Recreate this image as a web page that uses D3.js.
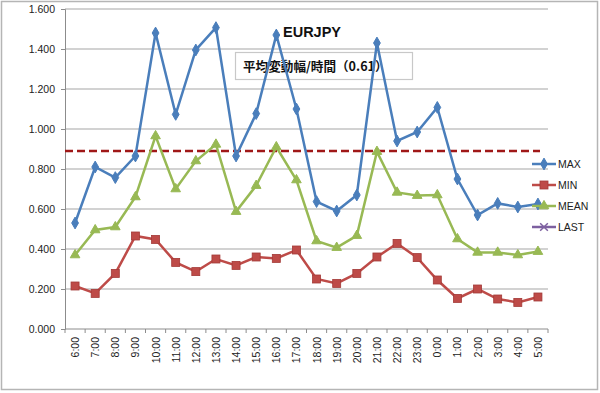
<!DOCTYPE html>
<html>
<head>
<meta charset="utf-8">
<script src="https://cdn.jsdelivr.net/npm/d3@7"></script>
<style>
   body { margin: 0; background: #fff; }
   svg { font-family: "Liberation Sans", Arial, sans-serif; }
</style>
</head>
<body>
<script>
// chart data
var hours = ["6:00", "7:00", "8:00", "9:00", "10:00", "11:00", "12:00", "13:00", "14:00", "15:00",
   "16:00", "17:00", "18:00", "19:00", "20:00", "21:00", "22:00", "23:00", "0:00", "1:00",
   "2:00", "3:00", "4:00", "5:00"];
var maxVals = [0.53, 0.81, 0.757, 0.865, 1.48, 1.073, 1.395, 1.507, 0.865, 1.077,
   1.47, 1.10, 0.637, 0.59, 0.67, 1.43, 0.94, 0.985, 1.108, 0.75,
   0.57, 0.628, 0.61, 0.625];
var minVals = [0.215, 0.178, 0.278, 0.465, 0.448, 0.333, 0.287, 0.35, 0.318, 0.36,
   0.353, 0.395, 0.25, 0.228, 0.278, 0.36, 0.428, 0.357, 0.245, 0.153,
   0.2, 0.15, 0.133, 0.16];
var meanVals = [0.37, 0.495, 0.51, 0.66, 0.965, 0.70, 0.84, 0.923, 0.587, 0.717,
   0.91, 0.745, 0.44, 0.407, 0.467, 0.887, 0.683, 0.667, 0.67, 0.45,
   0.383, 0.383, 0.37, 0.387];
var lastVals = [];
var yTicks = [0, 0.2, 0.4, 0.6, 0.8, 1.0, 1.2, 1.4, 1.6];
var avgLine = 0.89;
var chartTitle = "EURJPY";
var boxLabel = "平均変動幅/時間（0.61）";

var series = [
   { name: "MAX", values: maxVals, color: "#4a7ebb", marker: "diamond" },
   { name: "MIN", values: minVals, color: "#be4b48", marker: "square" },
   { name: "MEAN", values: meanVals, color: "#98b954", marker: "triangle" },
   { name: "LAST", values: lastVals, color: "#7d60a0", marker: "cross" }
];

var width = 600, height = 393;
var plot = { left: 65, right: 548, top: 9, bottom: 329 };

var svg = d3.select("body").append("svg")
   .attr("width", width)
   .attr("height", height);

// outer frame
svg.append("rect")
   .attr("x", 1.5).attr("y", 1.5)
   .attr("width", 596).attr("height", 388)
   .style("fill", "#fff")
   .style("stroke", "#b5b5b5")
   .style("stroke-width", 1.5);

var x = d3.scaleBand()
   .domain(hours)
   .range([plot.left, plot.right]);
var y = d3.scaleLinear()
   .domain([0, 1.6])
   .range([plot.bottom, plot.top]);

// gridlines
svg.append("g")
   .selectAll("line")
   .data(yTicks.slice(1))
   .enter().append("line")
   .attr("x1", plot.left).attr("x2", plot.right)
   .attr("y1", function (d) { return y(d); })
   .attr("y2", function (d) { return y(d); })
   .style("stroke", "#a6a6a6")
   .style("stroke-width", 1.2);

// y axis
var yAxis = svg.append("g")
   .attr("transform", "translate(" + plot.left + ",0)")
   .call(d3.axisLeft(y).tickValues(yTicks).tickFormat(d3.format(".3f")).tickSize(4).tickPadding(6));
yAxis.select(".domain").style("stroke", "#8c8c8c");
yAxis.selectAll(".tick line").style("stroke", "#8c8c8c");
yAxis.selectAll("text").style("font-size", "10.5px").style("fill", "#222");

// x axis, ticks between categories
var xAxis = svg.append("g")
   .attr("transform", "translate(0," + plot.bottom + ")");
xAxis.append("line")
   .attr("x1", plot.left).attr("x2", plot.right)
   .style("stroke", "#8c8c8c");
xAxis.selectAll(".tk")
   .data(hours.concat(["end"]))
   .enter().append("line")
   .attr("x1", function (d, i) { return plot.left + i * x.bandwidth(); })
   .attr("x2", function (d, i) { return plot.left + i * x.bandwidth(); })
   .attr("y1", 0).attr("y2", 4)
   .style("stroke", "#8c8c8c");
xAxis.selectAll("text")
   .data(hours)
   .enter().append("text")
   .attr("transform", function (d) {
      return "translate(" + (x(d) + x.bandwidth() / 2 + 4) + ",8) rotate(-90)";
   })
   .attr("text-anchor", "end")
   .style("font-size", "10.5px")
   .style("fill", "#222")
   .text(function (d) { return d; });

// label box (sits under the series lines)
svg.append("rect")
   .attr("x", 235.5).attr("y", 52.5)
   .attr("width", 177).attr("height", 27)
   .style("fill", "#fff")
   .style("stroke", "#c8c8c8")
   .style("stroke-width", 1.2);
svg.append("text")
   .attr("x", 243).attr("y", 71)
   .style("font-family", "'Noto Sans CJK JP', sans-serif")
   .style("font-size", "12.6px")
   .style("font-weight", "bold")
   .style("fill", "#111")
   .text(boxLabel);

// average dashed line
svg.append("line")
   .attr("x1", plot.left).attr("x2", 540)
   .attr("y1", y(avgLine)).attr("y2", y(avgLine))
   .style("stroke", "#a01818")
   .style("stroke-width", 2.5)
   .style("stroke-dasharray", "8,4");

function drawMarker(g, type, cx, cy, color) {
   if (type === "diamond") {
      g.append("path")
         .attr("d", d3.symbol().type(d3.symbolDiamond).size(40)())
         .attr("transform", "translate(" + cx + "," + cy + ")")
         .style("fill", color).style("stroke", color);
   } else if (type === "square") {
      g.append("rect")
         .attr("x", cx - 4).attr("y", cy - 4)
         .attr("width", 8).attr("height", 8)
         .style("fill", color).style("stroke", "#a33a37").style("stroke-width", 0.8);
   } else if (type === "triangle") {
      g.append("path")
         .attr("d", d3.symbol().type(d3.symbolTriangle).size(40)())
         .attr("transform", "translate(" + cx + "," + cy + ")")
         .style("fill", color).style("stroke", color);
   } else {
      g.append("path")
         .attr("d", d3.symbol().type(d3.symbolTimes).size(40)())
         .attr("transform", "translate(" + cx + "," + cy + ")")
         .style("fill", "none").style("stroke", color).style("stroke-width", 1.5);
   }
}

var line = d3.line()
   .x(function (d, i) { return x(hours[i]) + x.bandwidth() / 2; })
   .y(function (d) { return y(d); });

// draw lines (MIN, MEAN, MAX order so blue is on top)
[2, 1, 0, 3].forEach(function (k) {
   var s = series[k];
   if (!s.values.length) { return; }
   var g = svg.append("g").attr("class", "series-" + s.name);
   g.append("path")
      .attr("d", line(s.values))
      .style("fill", "none")
      .style("stroke", s.color)
      .style("stroke-width", 2.5);
   s.values.forEach(function (v, i) {
      drawMarker(g, s.marker, x(hours[i]) + x.bandwidth() / 2, y(v), s.color);
   });
});

// title
svg.append("text")
   .attr("x", 283).attr("y", 37)
   .style("font-size", "14.5px")
   .style("font-weight", "bold")
   .style("fill", "#111")
   .text(chartTitle);

// legend
var legend = svg.append("g");
series.forEach(function (s, i) {
   var ly = 164 + i * 21;
   legend.append("line")
      .attr("x1", 532).attr("x2", 556)
      .attr("y1", ly).attr("y2", ly)
      .style("stroke", s.color)
      .style("stroke-width", 2.5);
   drawMarker(legend, s.marker, 544, ly, s.color);
   legend.append("text")
      .attr("x", 558).attr("y", ly + 4)
      .style("font-size", "10.5px")
      .style("fill", "#222")
      .text(s.name);
});
</script>
</body>
</html>
